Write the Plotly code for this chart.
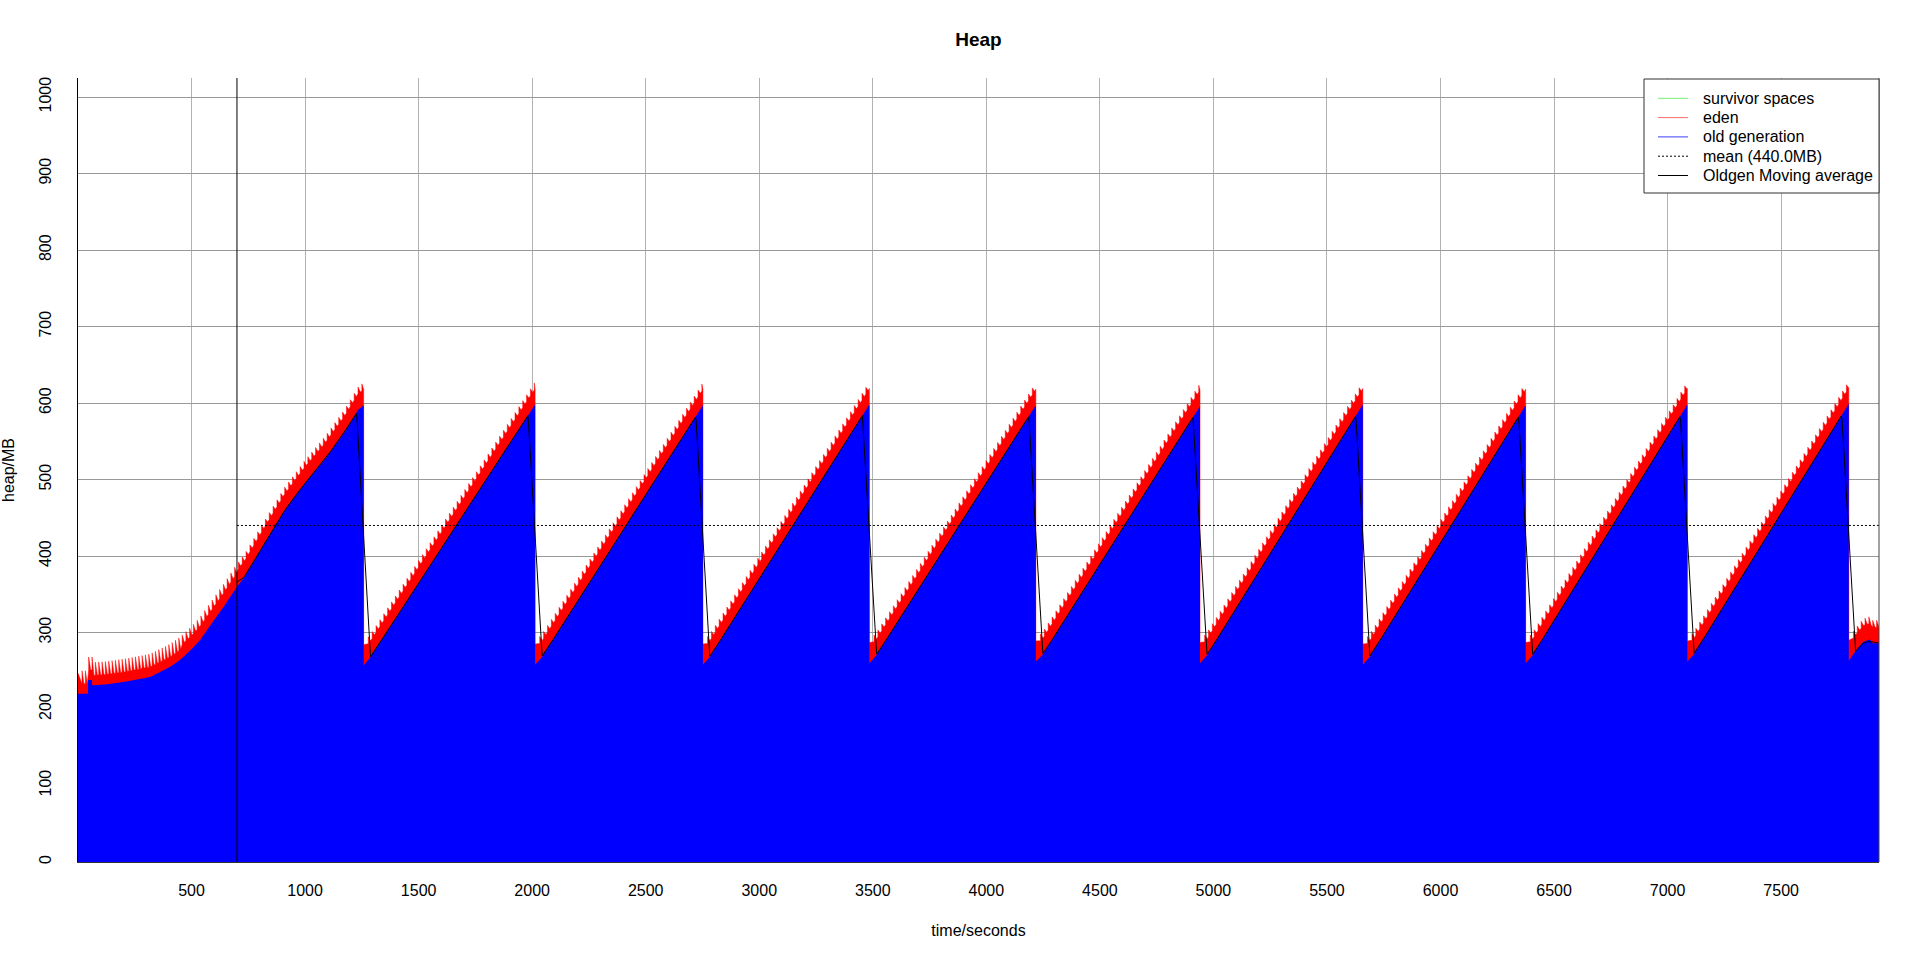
import numpy as np
import pandas as pd
import plotly.graph_objects as go

# ---------------- data ----------------
# warm-up phase of the old generation (time in s, MB)
warmup_t = [0, 44, 44, 62, 62, 120, 214, 317, 405, 449, 500, 537, 587, 640, 700, 734, 822, 910, 998, 1086, 1174, 1233]
warmup_old = [220, 220, 238, 238, 231, 232, 236, 242, 255, 264, 278, 290, 311, 333, 360, 373, 417, 460, 495, 526, 562, 591]
# old-generation collections (sawtooth drops)
drop_t = [1258, 2013, 2752, 3485, 4218, 4941, 5658, 6375, 7087, 7798]
peak_old = [597, 598, 597, 598, 597, 596, 598, 597, 598, 599]      # just before each drop
low_old = [257, 258, 258, 260, 262, 260, 258, 260, 262, 263]       # just after each drop
early_old = [268, 268, 268, 270, 271, 270, 268, 270, 272, 276]     # ~30 s after each drop
tail_t = [7862, 7891, 7903, 7931]
tail_old = [288, 291, 286, 286]
# eden occupancy on top of the old generation (MB), by phase
eden_phase_t = [0, 450, 700]
eden_low = [13, 18, 21]
eden_high = [30, 30, 30]
gc_period_s = [14.7, 16.5, 17.0]

mean_mb = 440.0
warmup_end_s = 700
x_end = 7931
x_ticks = [500, 1000, 1500, 2000, 2500, 3000, 3500, 4000, 4500, 5000, 5500, 6000, 6500, 7000, 7500]
y_ticks = [0, 100, 200, 300, 400, 500, 600, 700, 800, 900, 1000]
legend_labels = ["survivor spaces", "eden", "old generation", "mean (440.0MB)", "Oldgen Moving average"]
legend_colors = ["#74f074", "#ff6e6e", "#3c3cff", "black", "black"]
legend_dash = ["solid", "solid", "solid", "2px,2px", "solid"]

# ---------------- build series ----------------
segments = [(list(warmup_t) + [drop_t[0]], list(warmup_old) + [peak_old[0]])]
for k in range(len(drop_t)):
    if k < len(drop_t) - 1:
        segments.append(([drop_t[k], drop_t[k] + 30, drop_t[k + 1]],
                         [low_old[k], early_old[k], peak_old[k + 1]]))
    else:
        segments.append(([drop_t[k], drop_t[k] + 30] + tail_t,
                         [low_old[k], early_old[k]] + tail_old))

old_t, old_v = [], []
for ts, vs in segments:
    old_t += ts
    old_v += vs
old_t = np.array(old_t, float)
old_v = np.array(old_v, float)


def phase(t):
    return int(np.searchsorted(eden_phase_t, t, side="right") - 1)


top_x, top_y = [], []
for ts, vs in segments:
    a, b = ts[0], ts[-1]
    base = lambda t: float(np.interp(t, ts, vs))
    p = phase(a)
    top_x.append(a)
    top_y.append(base(a) + eden_high[p] - 3)
    s = a + 1.2 * gc_period_s[p]
    while s < b - 2:
        p = phase(s)
        P = gc_period_s[p]
        lo, hi = eden_low[p], eden_high[p]
        e = min(s + 0.6 * P, b)
        top_x += [s, s, e]
        top_y += [base(s) + lo, base(s) + hi, base(e) + lo]
        s += P
    top_x.append(b)
    top_y.append(base(b) + eden_low[phase(b)])

grid = np.arange(warmup_end_s, x_end + 1, 1.0)
ma = pd.Series(np.interp(grid, old_t, old_v)).rolling(61, center=True, min_periods=1).mean().to_numpy()

# ---------------- figure ----------------
FONT = "Liberation Sans, Arial, sans-serif"
L, R, T, B = 78, 41, 78, 98
W, H = 1920, 960
pw, ph = W - L - R, H - T - B

fig = go.Figure()
fig.add_trace(go.Scatter(x=top_x, y=top_y, mode="lines", fill="tozeroy",
                         fillcolor="#ff0000", line=dict(color="#ff0000", width=0.5),
                         name="eden", hoverinfo="skip"))
fig.add_trace(go.Scatter(x=old_t, y=old_v, mode="lines", fill="tozeroy",
                         fillcolor="#0000ff", line=dict(color="#0000ff", width=0),
                         name="old generation", hoverinfo="skip"))
fig.add_trace(go.Scatter(x=[warmup_end_s, x_end], y=[mean_mb, mean_mb], mode="lines",
                         line=dict(color="black", width=1, dash="2px,2px"), name="mean"))
fig.add_trace(go.Scatter(x=grid[::3], y=ma[::3], mode="lines",
                         line=dict(color="black", width=1), name="Oldgen Moving average"))


def px2x(px):
    return (px - L) / pw


def px2y(py):
    return (H - B - py) / ph


shapes = [
    dict(type="line", xref="x", yref="paper", x0=warmup_end_s, x1=warmup_end_s, y0=0, y1=1,
         line=dict(color="black", width=1), layer="above"),
    dict(type="line", xref="paper", yref="paper", x0=1, x1=1, y0=0, y1=1,
         line=dict(color="#444444", width=1), layer="above"),
    dict(type="rect", xref="paper", yref="paper", x0=px2x(1644), x1=px2x(1879), y0=px2y(193), y1=px2y(79),
         line=dict(color="#333333", width=1), fillcolor="white", layer="above"),
]
annotations = []
row_y = [98.3, 117.6, 136.9, 156.2, 175.5]
for i, lab in enumerate(legend_labels):
    shapes.append(dict(type="line", xref="paper", yref="paper", x0=px2x(1658), x1=px2x(1688),
                       y0=px2y(row_y[i]), y1=px2y(row_y[i]),
                       line=dict(color=legend_colors[i], width=1, dash=legend_dash[i]), layer="above"))
    annotations.append(dict(xref="paper", yref="paper", x=px2x(1701), y=px2y(row_y[i]), text=lab,
                            showarrow=False, xanchor="left", yanchor="middle",
                            font=dict(family=FONT, size=16, color="black")))

fig.update_layout(
    width=W, height=H, margin=dict(l=L, r=R, t=T, b=B, pad=0),
    paper_bgcolor="white", plot_bgcolor="white", showlegend=False,
    title=dict(text="<b>Heap</b>", x=0.5, xref="paper", y=1 - 39 / H, yref="container",
               xanchor="center", yanchor="middle", font=dict(family=FONT, size=19, color="black")),
    font=dict(family=FONT, size=16, color="black"),
    shapes=shapes, annotations=annotations,
)
fig.update_xaxes(range=[0, x_end], tickvals=x_ticks, ticktext=[str(v) for v in x_ticks],
                 showgrid=True, gridcolor="#b2b2b2", gridwidth=1, zeroline=False,
                 showline=True, linecolor="#333333", linewidth=1, ticks="",
                 ticklabelstandoff=14, tickfont=dict(family=FONT, size=16, color="black"),
                 title=dict(text="time/seconds", standoff=26, font=dict(family=FONT, size=16)),
                 automargin=False)
fig.update_yaxes(range=[0, 1025], tickvals=y_ticks, ticktext=[str(v) for v in y_ticks],
                 tickangle=-90, showgrid=True, gridcolor="#999999", gridwidth=1, zeroline=False,
                 showline=True, linecolor="black", linewidth=1, ticks="",
                 ticklabelstandoff=20, tickfont=dict(family=FONT, size=16, color="black"),
                 title=dict(text="heap/MB", standoff=18, font=dict(family=FONT, size=16)),
                 automargin=False)

fig.write_html("out.html", config={"displayModeBar": False},
               post_script="document.body.style.margin='0';")
